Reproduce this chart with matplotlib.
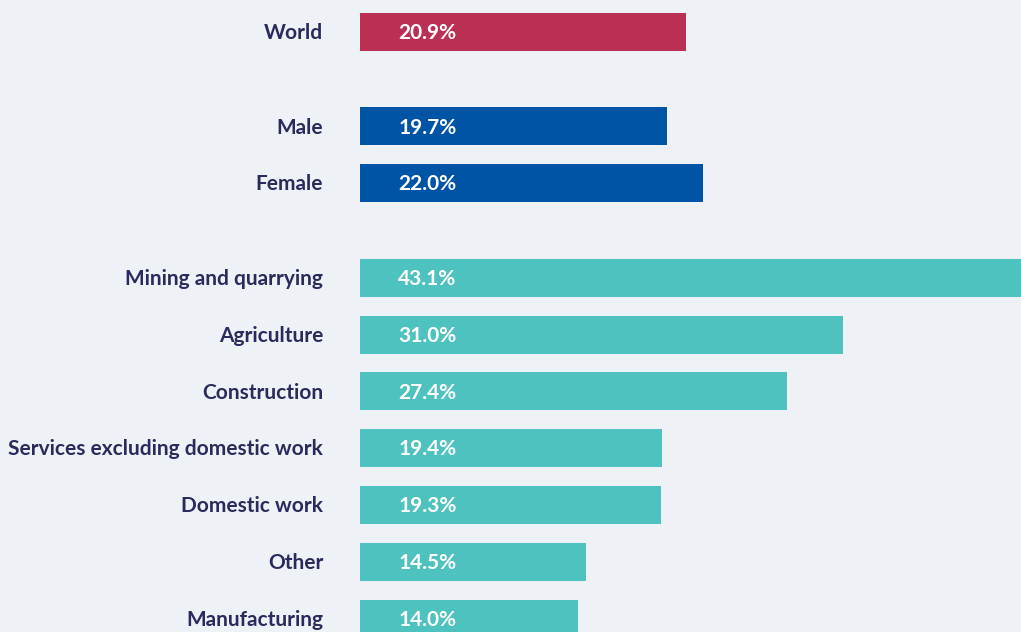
import matplotlib
matplotlib.use("Agg")
import matplotlib.pyplot as plt

categories = ["World", "Male", "Female", "Mining and quarrying", "Agriculture",
              "Construction", "Services excluding domestic work", "Domestic work",
              "Other", "Manufacturing"]
values = [20.9, 19.7, 22.0, 43.1, 31.0, 27.4, 19.4, 19.3, 14.5, 14.0]
groups = [0, 1, 1, 2, 2, 2, 2, 2, 2, 2]
group_colors = ["#BC2F55", "#0054A6", "#4EC2BE"]

bg = "#EEF1F6"
label_color = "#2B2A5C"

plt.rcParams["font.family"] = ["Lato", "DejaVu Sans"]

# row positions: one unit per bar, extra gap between groups
gap = 0.66
positions = []
pos = 0.0
for i, g in enumerate(groups):
    if i > 0:
        pos += 1.0 + (gap if g != groups[i - 1] else 0.0)
    positions.append(pos)

fig = plt.figure(figsize=(10.21, 6.32), dpi=100, facecolor=bg)
ax = fig.add_axes([360 / 1021, 0, 1 - 360 / 1021, 1])
ax.set_facecolor(bg)

colors = [group_colors[g] for g in groups]
ax.barh(positions, values, height=0.67, color=colors, clip_on=True)

for p, v, c in zip(positions, values, categories):
    ax.text(2.45, p + 0.02, f"{v:.1f}%", color="white", fontsize=15, fontweight="bold",
            va="center", ha="left")
    ax.text(-2.35, p + 0.02, c, color=label_color, fontsize=15, fontweight="bold",
            va="center", ha="right", clip_on=False)

ax.set_xlim(0, 42.4)
ax.set_ylim(positions[-1] + 0.23, -0.563)
ax.axis("off")

fig.savefig("out.png", dpi=100, facecolor=bg)
